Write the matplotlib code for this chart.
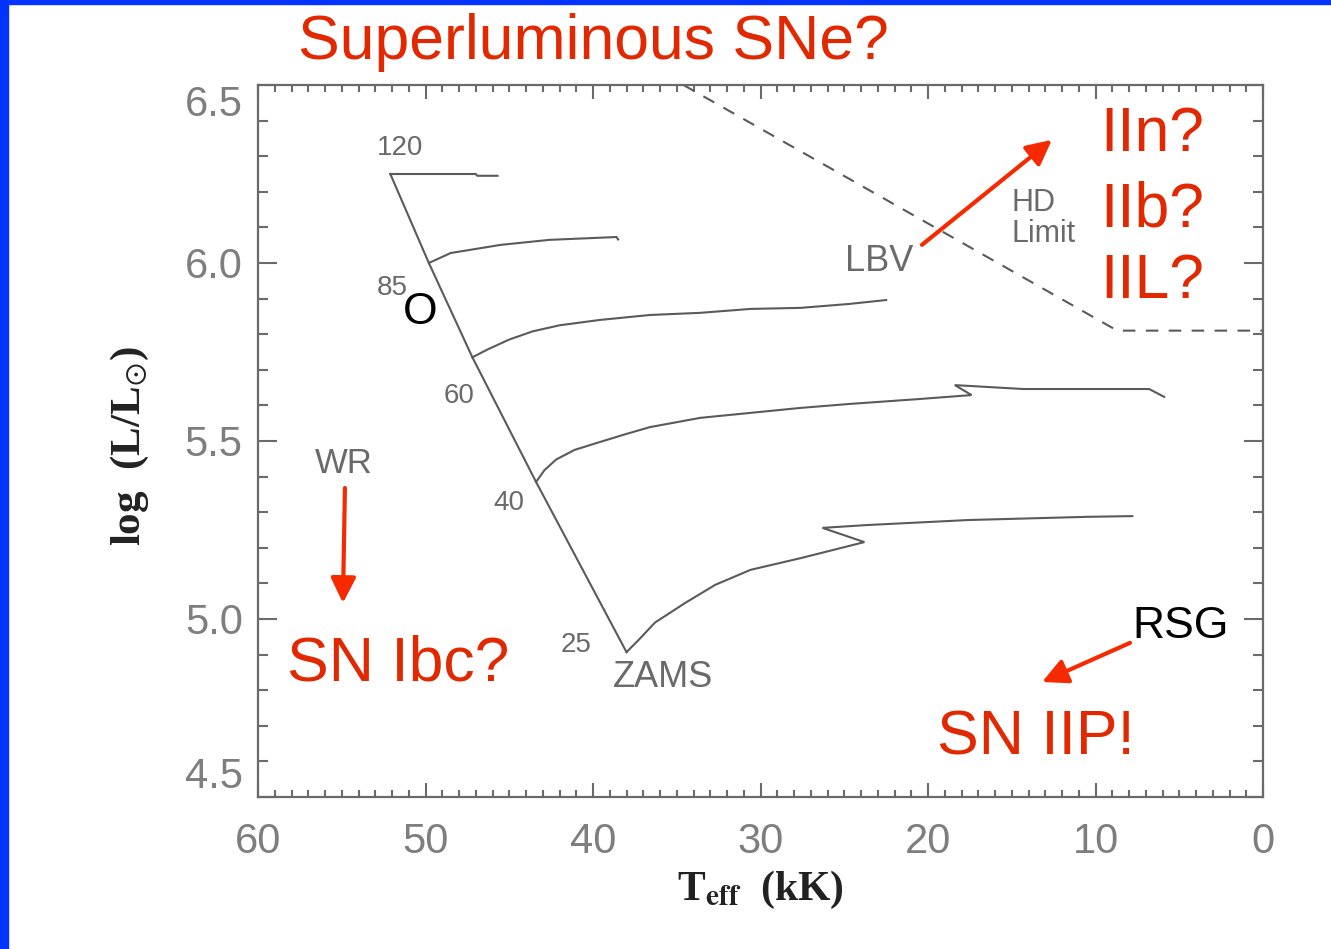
import matplotlib
matplotlib.use("Agg")
import matplotlib.pyplot as plt
from matplotlib.patches import Rectangle
from matplotlib.ticker import MultipleLocator

plt.rcParams['mathtext.fontset'] = 'stix'

# ---------------- data ----------------
zams_T = [52.1, 49.8, 47.2, 43.4, 38.0]
zams_L = [6.25, 6.00, 5.735, 5.385, 4.907]

trk120_T = [52.1, 47.0, 46.9, 45.7]
trk120_L = [6.25, 6.25, 6.245, 6.245]

trk85_T = [49.8, 48.5, 45.5, 42.6, 38.6, 38.5]
trk85_L = [6.00, 6.028, 6.051, 6.065, 6.073, 6.066]

trk60_T = [47.2, 46.3, 45.0, 43.6, 42.0, 39.6, 36.6, 33.6, 30.6, 27.6, 24.7, 22.5]
trk60_L = [5.735, 5.757, 5.785, 5.808, 5.825, 5.84, 5.854, 5.86, 5.871, 5.874, 5.885, 5.896]

trk40_T = [43.4, 42.9, 42.2, 41.1, 39.6, 38.0, 36.6, 33.6, 30.6, 27.6, 24.7, 20.5,
           17.4, 18.4, 14.3, 6.8, 5.9]
trk40_L = [5.385, 5.418, 5.448, 5.475, 5.497, 5.52, 5.539, 5.565, 5.579, 5.593, 5.604,
           5.618, 5.629, 5.657, 5.646, 5.646, 5.624]

trk25_T = [38.0, 37.3, 36.3, 34.5, 32.7, 30.6, 27.6, 23.8, 26.3, 23.6, 17.6, 10.5, 7.8]
trk25_L = [4.907, 4.94, 4.99, 5.045, 5.096, 5.138, 5.171, 5.216, 5.256, 5.264,
           5.278, 5.287, 5.289]

hd_T = [34.6, 8.7, 0.0]
hd_L = [6.50, 5.81, 5.81]

mass_labels = ["120", "85", "60", "40", "25"]
mass_T = [51.5, 52.0, 48.0, 45.0, 41.0]
mass_L = [6.323, 5.93, 5.626, 5.326, 4.927]

x_ticks = [60, 50, 40, 30, 20, 10, 0]
y_ticks = [4.5, 5.0, 5.5, 6.0, 6.5]

# ---------------- figure ----------------
W, H = 1331, 949
fig = plt.figure(figsize=(W / 100, H / 100), dpi=100)
fig.patch.set_facecolor('white')

# blue slide border (left + top)
fig.patches.append(Rectangle((0, 0), 8 / W, 1, transform=fig.transFigure,
                             color='#0433ff', zorder=0))
fig.patches.append(Rectangle((0, 1 - 4 / H), 1, 4 / H, transform=fig.transFigure,
                             color='#0433ff', zorder=0))

ax = fig.add_axes([258 / W, 1 - 797 / H, (1263 - 258) / W, (797 - 85) / H])
ax.set_xlim(60, 0)
ax.set_ylim(4.5, 6.5)

gray = '#5a5a5a'
lw = 1.5
for T, L in [(zams_T, zams_L), (trk120_T, trk120_L), (trk85_T, trk85_L),
             (trk60_T, trk60_L), (trk40_T, trk40_L), (trk25_T, trk25_L)]:
    ax.plot(T, L, color=gray, lw=lw, solid_joinstyle='miter')
ax.plot(hd_T, hd_L, color=gray, lw=lw, dashes=(6, 5))

# spines / ticks
for s in ax.spines.values():
    s.set_color('#6a6a6a')
    s.set_linewidth(1.6)
ax.set_xticks(x_ticks)
ax.set_yticks(y_ticks)
ax.set_xticklabels([str(v) for v in x_ticks])
ax.set_yticklabels([f"{v:.1f}" for v in y_ticks])
ax.xaxis.set_minor_locator(MultipleLocator(1))
ax.yaxis.set_minor_locator(MultipleLocator(0.1))
ax.tick_params(axis='both', which='both', direction='in', top=True, right=True,
               color='#6a6a6a', width=1.5)
ax.tick_params(axis='x', which='major', length=10, pad=18)
ax.tick_params(axis='x', which='minor', length=5)
ax.tick_params(axis='y', which='major', length=14, pad=11)
ax.tick_params(axis='y', which='minor', length=7)
for lab in ax.get_xticklabels() + ax.get_yticklabels():
    lab.set_fontfamily('Liberation Sans')
    lab.set_fontsize(30)
    lab.set_color('#7e7e7e')
ylabs = ax.get_yticklabels()
ylabs[-1].set_verticalalignment('top')
ylabs[0].set_verticalalignment('bottom')

ax.set_xlabel(r'T$_{\mathbf{eff}}$  (kK)', fontfamily='Liberation Serif',
              fontweight='bold', fontsize=30, color='#222222')
ax.xaxis.set_label_coords((760 - 258) / 1005, (797 - 890) / 712)
ax.xaxis.label.set_verticalalignment('center')
ax.set_ylabel(r'log  (L/L$_{\odot}$)', fontfamily='Liberation Serif',
              fontweight='bold', fontsize=31, color='#222222')
ax.yaxis.set_label_coords((130 - 258) / 1005, (797 - 446) / 712)
ax.yaxis.label.set_verticalalignment('center')

# gray in-plot labels
gtxt = dict(color='#6a6a6a', fontfamily='Liberation Sans', ha='center', va='center')
for lab, T, L in zip(mass_labels, mass_T, mass_L):
    ax.text(T, L, lab, fontsize=20, **gtxt)
ax.text(35.8, 4.837, "ZAMS", fontsize=26, **gtxt)
ax.text(54.9, 5.438, "WR", fontsize=25, **gtxt)
ax.text(22.9, 6.003, "LBV", fontsize=26, **gtxt)
ax.text(15.0, 6.126, "HD\nLimit", fontsize=22, color='#6a6a6a',
        fontfamily='Liberation Sans', ha='left', va='center', linespacing=1.05)

# black labels
ax.text(50.3, 5.86, "O", fontsize=32, color='black', fontfamily='Liberation Sans',
        ha='center', va='center')
ax.text(4.9, 4.98, "RSG", fontsize=32, color='black', fontfamily='Liberation Sans',
        ha='center', va='center')

# red labels
red = '#e12800'
rtxt = dict(color=red, fontfamily='Liberation Sans', fontsize=45, va='center')
fig.text(593 / W, 1 - 42 / H, "Superluminous SNe?", ha='center', **rtxt)
ax.text(9.73, 6.36, "IIn?", ha='left', **rtxt)
ax.text(9.73, 6.149, "IIb?", ha='left', **rtxt)
ax.text(9.73, 5.947, "IIL?", ha='left', **rtxt)
ax.text(58.27, 4.874, "SN Ibc?", ha='left', **rtxt)
ax.text(19.46, 4.666, "SN IIP!", ha='left', **rtxt)

# red arrows
arrow_red = '#f52a00'
ap = dict(arrowstyle='-|>', color=arrow_red, lw=3, mutation_scale=38,
          shrinkA=0, shrinkB=0)
ax.annotate("", xy=(12.6, 6.346), xytext=(20.36, 6.051), arrowprops=ap)
ax.annotate("", xy=(54.93, 5.045), xytext=(54.81, 5.368), arrowprops=ap)
ax.annotate("", xy=(13.19, 4.823), xytext=(7.94, 4.933), arrowprops=ap)

fig.savefig("out.png", dpi=100)
